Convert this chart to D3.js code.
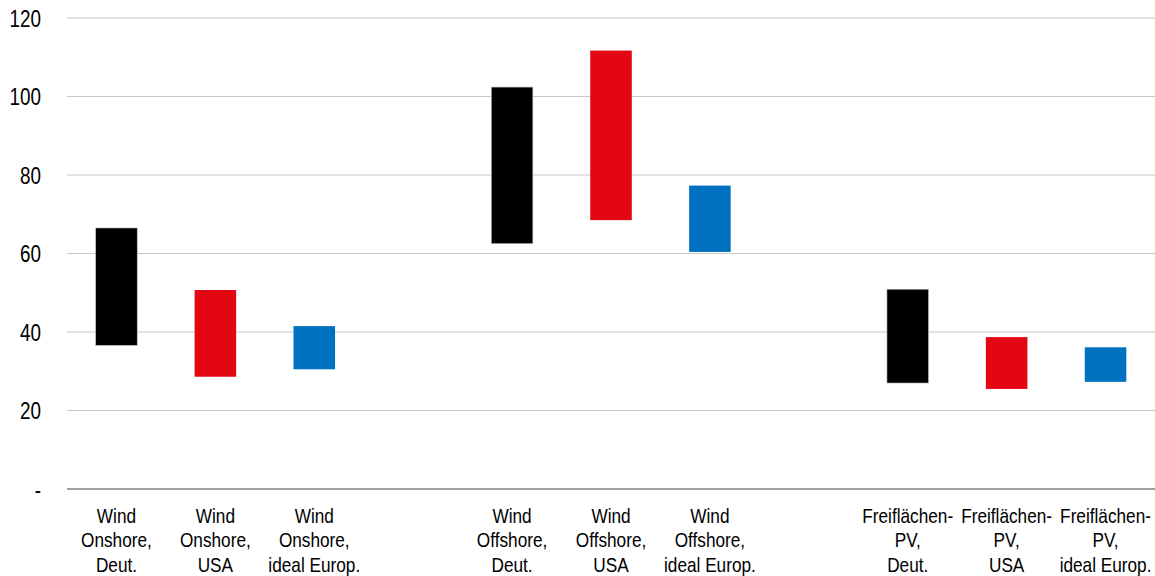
<!DOCTYPE html>
<html>
<head>
<meta charset="utf-8">
<script src="https://cdn.jsdelivr.net/npm/d3@7"></script>
<style>
    body { margin: 0; background: #fff; overflow: hidden; }
    text { font-family: "Liberation Sans", Arial, sans-serif; fill: #000; }
</style>
</head>
<body>
<svg id="chart"></svg>
<script>
// categories (empty slots keep the gaps between the groups)
const categories = [
    ['Wind', 'Onshore,', 'Deut.'],
    ['Wind', 'Onshore,', 'USA'],
    ['Wind', 'Onshore,', 'ideal Europ.'],
    null,
    ['Wind', 'Offshore,', 'Deut.'],
    ['Wind', 'Offshore,', 'USA'],
    ['Wind', 'Offshore,', 'ideal Europ.'],
    null,
    ['Freiflächen-', 'PV,', 'Deut.'],
    ['Freiflächen-', 'PV,', 'USA'],
    ['Freiflächen-', 'PV,', 'ideal Europ.']
];
const lowValues  = [36.6, 28.6, 30.5, null, 62.5, 68.5, 60.4, null, 27.0, 25.5, 27.3];
const highValues = [66.5, 50.7, 41.5, null, 102.4, 111.7, 77.3, null, 50.9, 38.7, 36.1];
const regions = ['Deut.', 'USA', 'ideal', null, 'Deut.', 'USA', 'ideal', null, 'Deut.', 'USA', 'ideal'];
const yTicks = [0, 20, 40, 60, 80, 100, 120];

const colors = { 'Deut.': '#000000', 'USA': '#e30613', 'ideal': '#0070c0' };

const width = 1155, height = 576;
const margin = { top: 18, right: 0, bottom: 87, left: 67 };
// the original uses a narrow font, so the text is squeezed sideways
const narrow = 0.82;

const svg = d3.select('#chart')
    .attr('width', width)
    .attr('height', height);

const xScale = d3.scaleBand()
    .domain(d3.range(categories.length))
    .range([margin.left, width - margin.right])
    .padding(0);

const yScale = d3.scaleLinear()
    .domain([0, 120])
    .range([height - margin.bottom, margin.top]);

// gridlines
svg.append('g')
    .selectAll('line')
    .data(yTicks.filter(d => d > 0))
    .join('line')
    .attr('x1', margin.left)
    .attr('x2', width - margin.right)
    .attr('y1', d => yScale(d))
    .attr('y2', d => yScale(d))
    .attr('stroke', '#c8c8c8')
    .attr('stroke-width', 1);

// y axis labels
const yAxis = d3.axisLeft(yScale)
    .tickValues(yTicks)
    .tickSize(0)
    .tickFormat(d => d === 0 ? '-' : d);

svg.append('g')
    .attr('class', 'axis y-axis')
    .attr('transform', `translate(${margin.left},0)`)
    .call(yAxis)
    .call(g => g.select('.domain').remove())
    .call(g => g.selectAll('text')
        .attr('x', 0)
        .attr('dy', '0.36em')
        .attr('transform', `translate(-26,0) scale(${narrow},1)`)
        .style('font-size', '23px')
        .attr('fill', '#000'));

// bars
const bars = categories.map((c, i) => ({ i, low: lowValues[i], high: highValues[i], region: regions[i] }))
    .filter(d => d.low !== null);

const barWidth = xScale.bandwidth() * 0.42;

svg.append('g')
    .selectAll('rect')
    .data(bars)
    .join('rect')
    .attr('x', d => xScale(d.i) + (xScale.bandwidth() - barWidth) / 2)
    .attr('y', d => yScale(d.high))
    .attr('width', barWidth)
    .attr('height', d => yScale(d.low) - yScale(d.high))
    .attr('fill', d => colors[d.region])
    .attr('stroke', d => d.region === 'Deut.' ? '#bdbdbd' : 'none')
    .attr('stroke-width', 0.6);

// x axis line
svg.append('line')
    .attr('x1', margin.left)
    .attr('x2', width - margin.right)
    .attr('y1', yScale(0))
    .attr('y2', yScale(0))
    .attr('stroke', '#808080')
    .attr('stroke-width', 1.5);

// x labels, three lines each
const labels = svg.append('g')
    .selectAll('text')
    .data(categories.map((c, i) => ({ c, i })).filter(d => d.c !== null))
    .join('text')
    .attr('text-anchor', 'middle')
    .attr('transform', d => `translate(${xScale(d.i) + xScale.bandwidth() / 2},${yScale(0) + 34}) scale(${narrow},1)`)
    .style('font-size', '21px');

labels.selectAll('tspan')
    .data(d => d.c)
    .join('tspan')
    .attr('x', 0)
    .attr('dy', (d, j) => j === 0 ? 0 : 24.5)
    .text(d => d);
</script>
</body>
</html>
